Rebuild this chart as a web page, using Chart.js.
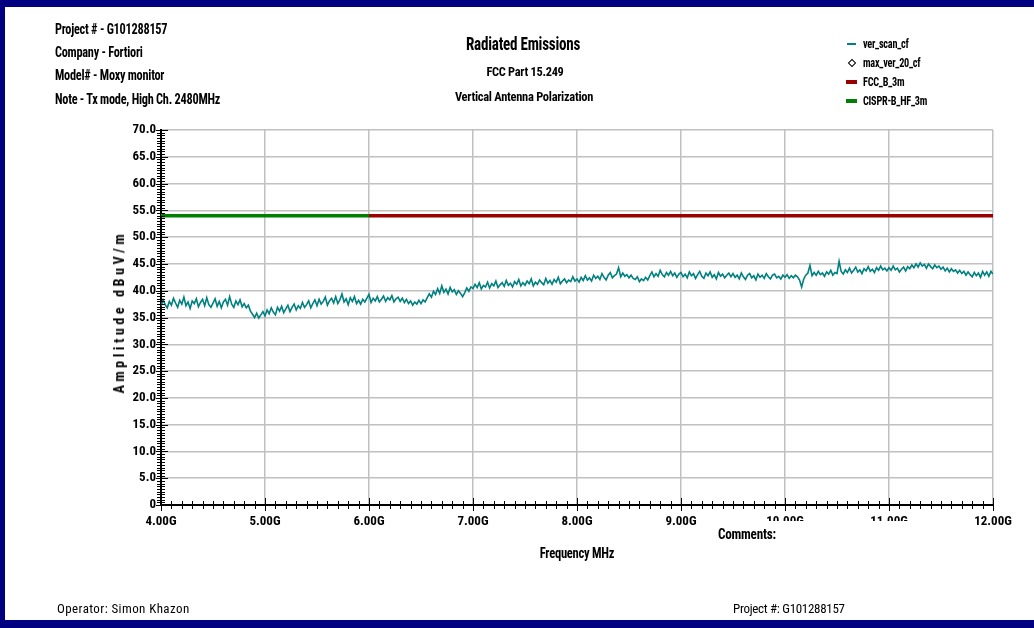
<!DOCTYPE html>
<html><head><meta charset="utf-8">
<script src="https://cdn.jsdelivr.net/npm/chart.js@4"></script>
<style>
html,body{margin:0;padding:0;background:#fff;}
body{width:1034px;height:628px;position:relative;overflow:hidden;font-family:"Roboto Condensed","Liberation Sans Narrow",sans-serif;font-weight:bold;color:#000;}
.bar{position:absolute;background:#000080;}
.t{position:absolute;white-space:nowrap;line-height:16px;letter-spacing:-0.3px;transform-origin:0 50%;}
.c{transform-origin:50% 50%;}
#chart{position:absolute;left:0;top:0;}
.lg{position:absolute;left:846px;font-size:12.5px;line-height:14px;white-space:nowrap;letter-spacing:-0.3px;}
.lg .sym{position:absolute;left:0;top:6px;}
.lg .txt{position:absolute;left:17px;top:0;transform:scaleX(0.82);transform-origin:0 50%;}
</style>
</head><body>
<canvas id="chart" width="1034" height="628"></canvas>
<div class="bar" style="left:0;top:0;width:1034px;height:7px"></div>
<div class="bar" style="left:0;top:0;width:5px;height:628px"></div>
<div class="bar" style="left:0;top:620px;width:1034px;height:8px"></div>

<div class="t" style="left:55px;top:21px;font-size:14px;transform:scaleX(0.88)">Project # - G101288157</div>
<div class="t" style="left:55px;top:44px;font-size:14px;transform:scaleX(0.88)">Company - Fortiori</div>
<div class="t" style="left:55px;top:67px;font-size:14px;transform:scaleX(0.88)">Model# - Moxy monitor</div>
<div class="t" style="left:55px;top:91px;font-size:14px;transform:scaleX(0.88)">Note - Tx mode, High Ch. 2480MHz</div>

<div class="t c" style="left:523px;top:35px;font-size:18px;line-height:18px;transform:translateX(-50%) scaleX(0.84)">Radiated Emissions</div>
<div class="t c" style="left:525px;top:64px;font-size:13px;transform:translateX(-50%) scaleX(0.95)">FCC Part 15.249</div>
<div class="t c" style="left:524px;top:89px;font-size:13px;transform:translateX(-50%) scaleX(0.96)">Vertical Antenna Polarization</div>

<div id="legend"></div>

<div class="t" style="left:119px;top:312px;font-size:14px;transform-origin:50% 50%;transform:translate(-50%,-50%) rotate(-90deg);letter-spacing:3.6px">Amplitude dBuV/m</div>
<div class="t c" style="left:577px;top:545px;font-size:14px;transform:translateX(-50%) scaleX(0.9)">Frequency MHz</div>
<div style="position:absolute;left:716px;top:521px;width:222px;height:22px;background:#fff"></div>
<div class="t" style="left:718px;top:526px;font-size:15px;transform:scaleX(0.88)">Comments:</div>

<div class="t" style="left:57px;top:601px;font-size:13px;font-weight:normal;letter-spacing:0.4px">Operator: Simon Khazon</div>
<div class="t" style="left:733px;top:601px;font-size:13px;font-weight:normal">Project #: G101288157</div>

<script>
// ---- data ----
const seriesNames = ["ver_scan_cf", "max_ver_20_cf", "FCC_B_3m", "CISPR-B_HF_3m"];
const xTickLabels = ["4.00G","5.00G","6.00G","7.00G","8.00G","9.00G","10.00G","11.00G","12.00G"];
const yTickLabels = ["0","5.0","10.0","15.0","20.0","25.0","30.0","35.0","40.0","45.0","50.0","55.0","60.0","65.0","70.0"];
const freqStartMHz = 4000;
const freqStepMHz = 20;
const verScanDb = [
37.1,38.3,37.4,36.8,38.0, 37.3,38.6,37.7,36.9,38.2, 37.5,38.8,37.2,37.9,36.7, 38.1,37.6,38.5,37.0,37.8, 38.4,37.2,38.7,37.4,36.9,
37.7,38.5,37.1,38.0,36.8, 37.9,38.4,37.3,38.9,37.5, 36.9,38.1,37.4,38.3,37.0, 37.6,36.8,37.3,36.2,35.6, 35.0,35.8,34.9,35.5,36.1,
35.3,36.4,35.7,36.8,36.0, 35.5,36.9,36.2,37.1,35.9, 36.6,37.3,36.1,36.9,37.5, 36.4,37.2,36.7,37.8,36.9, 37.4,38.1,36.8,37.6,38.3,
37.2,38.4,37.5,38.0,38.8, 37.3,38.1,38.6,37.7,38.9, 37.6,38.3,39.4,37.9,38.5, 37.4,38.7,38.0,38.9,37.6, 38.2,37.5,38.4,37.9,38.6,
39.3,37.8,38.6,38.1,38.9, 37.9,38.4,39.0,38.0,38.7, 38.3,39.1,37.9,38.5,38.8, 38.0,38.6,37.8,38.4,37.6, 38.1,37.3,37.9,37.5,38.2,
37.6,38.3,37.9,38.7,39.4, 38.8,39.9,39.3,40.4,39.5, 40.9,39.7,40.3,39.4,40.6, 39.8,40.2,39.3,40.0,39.5, 38.9,39.6,40.5,39.9,40.7,
40.4,41.2,40.6,41.5,40.3, 41.0,40.7,41.6,40.5,41.3, 40.9,41.8,40.6,41.1,41.5, 40.8,41.9,41.0,41.4,40.7, 41.7,41.2,42.1,40.9,41.5,
41.0,41.8,41.3,42.2,40.9, 41.6,41.2,42.0,41.5,41.1, 42.3,41.4,41.9,41.2,42.1, 41.6,42.5,41.3,41.8,42.2, 41.5,42.0,41.7,42.6,41.8,
42.2,41.6,42.5,41.9,42.8, 42.0,42.4,41.8,42.9,42.3, 42.7,42.1,43.2,42.5,42.0, 42.9,43.4,42.4,42.8,43.1, 44.3,42.6,43.3,42.7,43.0,
42.4,42.9,42.3,42.1,42.6, 41.7,42.2,41.9,42.5,42.0, 42.8,43.5,42.6,43.2,42.7, 43.8,43.0,42.6,43.4,42.9, 43.6,42.8,43.3,42.5,43.1,
43.4,42.6,43.1,42.4,43.5, 42.8,43.2,42.3,43.0,43.6, 42.7,42.3,43.3,42.8,43.5, 42.5,43.0,42.2,43.4,42.7, 43.1,42.4,42.9,43.3,42.6,
43.2,42.5,42.9,42.2,43.3, 42.6,42.1,42.9,43.2,42.4, 42.8,42.0,43.1,42.5,42.9, 42.3,43.2,42.6,42.2,42.9, 43.1,42.4,42.7,42.2,42.9,
42.5,43.0,42.3,42.8,42.4, 42.9,42.6,42.0,40.7,42.2, 42.9,43.3,44.7,42.8,43.4, 42.9,43.6,43.0,43.3,42.7, 43.5,43.1,43.8,42.9,43.4,
43.2,45.5,43.6,43.1,43.9, 43.4,44.2,43.3,43.8,44.4, 43.5,43.9,43.2,44.1,43.7, 44.5,43.6,44.0,43.4,44.3, 43.8,44.6,43.9,44.2,43.7,
44.3,43.8,44.6,43.9,44.2, 43.5,44.0,44.4,43.7,44.5, 44.1,44.8,44.3,45.0,44.4, 45.2,44.6,44.9,44.2,45.0, 44.5,44.1,44.8,44.3,44.6,
44.0,44.4,43.7,44.2,43.5, 44.1,43.6,43.9,43.3,43.8, 43.2,43.6,42.9,43.5,43.0, 42.6,43.4,42.8,43.3,42.5, 43.6,42.9,43.5,42.7,43.6,
43.1
];
const maxVer20Freq = [];
const maxVer20Db = [];
const fccFreqMHz = [6000, 12000];
const fccLimitDb = [54, 54];
const cisprFreqMHz = [4000, 6000];
const cisprLimitDb = [54, 54];

// ---- build ----
const toPts = (fx, vy) => vy.map((v, i) => ({x: fx[i], y: v}));
const scanPts = verScanDb.map((v, i) => ({x: freqStartMHz + i * freqStepMHz, y: v}));
const colors = ["#008080", "#000000", "#9a0000", "#008000"];

const legendEl = document.getElementById('legend');
const legendTops = [37, 56, 75, 94];
seriesNames.forEach((n, i) => {
  const d = document.createElement('div');
  d.className = 'lg';
  d.style.top = legendTops[i] + 'px';
  let sym;
  if (i === 0) sym = '<div class="sym" style="left:1px;width:9px;height:2px;background:'+colors[0]+'"></div>';
  else if (i === 1) sym = '<div class="sym" style="left:3px;top:4px;width:4px;height:4px;border:1px solid #000;transform:rotate(45deg)"></div>';
  else sym = '<div class="sym" style="left:0;top:5px;width:11px;height:4px;background:'+colors[i]+'"></div>';
  d.innerHTML = sym + '<span class="txt">' + n + '</span>';
  legendEl.appendChild(d);
});

const FONT = "'Roboto Condensed','Liberation Sans Narrow',sans-serif";

const tickPlugin = {
  id: 'axisTicks',
  afterDraw(chart) {
    const {ctx, scales: {x, y}} = chart;
    ctx.save();
    ctx.strokeStyle = '#000';
    ctx.lineWidth = 1;
    const ay = Math.round(y.getPixelForValue(0));
    const ax = Math.round(x.getPixelForValue(4000));
    for (let k = 0; k <= 80; k++) {
      const px = Math.round(x.getPixelForValue(4000 + k * 100)) + 0.5;
      const major = k % 10 === 0;
      ctx.beginPath();
      ctx.moveTo(px, ay - (major ? 7 : 4));
      ctx.lineTo(px, ay + (major ? 6 : 4));
      ctx.stroke();
    }
    for (let k = 0; k <= 140; k++) {
      const py = Math.round(y.getPixelForValue(k * 0.5)) + 0.5;
      const major = k % 10 === 0;
      ctx.beginPath();
      ctx.moveTo(ax - (major ? 5 : 4), py);
      ctx.lineTo(ax + (major ? 7 : 4), py);
      ctx.stroke();
    }
    ctx.restore();
  }
};

new Chart(document.getElementById('chart'), {
  type: 'line',
  data: {
    datasets: [
      {label: seriesNames[3], data: toPts(cisprFreqMHz, cisprLimitDb), borderColor: colors[3], borderWidth: 3.5, pointRadius: 0},
      {label: seriesNames[2], data: toPts(fccFreqMHz, fccLimitDb), borderColor: colors[2], borderWidth: 3.5, pointRadius: 0},
      {label: seriesNames[1], data: toPts(maxVer20Freq, maxVer20Db), borderColor: colors[1], showLine: false, pointStyle: 'rectRot', pointRadius: 3},
      {label: seriesNames[0], data: scanPts, borderColor: colors[0], borderWidth: 1.6, pointRadius: 0, tension: 0}
    ]
  },
  options: {
    responsive: false,
    animation: false,
    parsing: false,
    normalized: true,
    layout: {padding: {top: 130, right: 41, left: 0, bottom: 0}},
    plugins: {legend: {display: false}, tooltip: {enabled: false}},
    scales: {
      x: {
        type: 'linear', min: 4000, max: 12000,
        afterFit: s => { s.height = 123; },
        grid: {color: '#c0c0c0', lineWidth: 1.5, drawTicks: false},
        border: {display: true, color: '#000', width: 2},
        ticks: {stepSize: 1000, autoSkip: false, maxRotation: 0, padding: 9, color: '#000',
          font: {family: FONT, size: 13, weight: 'bold'},
          callback: v => xTickLabels[Math.round((v - 4000) / 1000)]}
      },
      y: {
        type: 'linear', min: 0, max: 70,
        afterFit: s => { s.width = 161; },
        grid: {color: '#c0c0c0', lineWidth: 1.5, drawTicks: false},
        border: {display: true, color: '#000', width: 2},
        ticks: {stepSize: 5, padding: 5, color: '#000',
          font: {family: FONT, size: 13, weight: 'bold'},
          callback: v => yTickLabels[Math.round(v / 5)]}
      }
    }
  },
  plugins: [tickPlugin]
});
</script>
</body></html>
